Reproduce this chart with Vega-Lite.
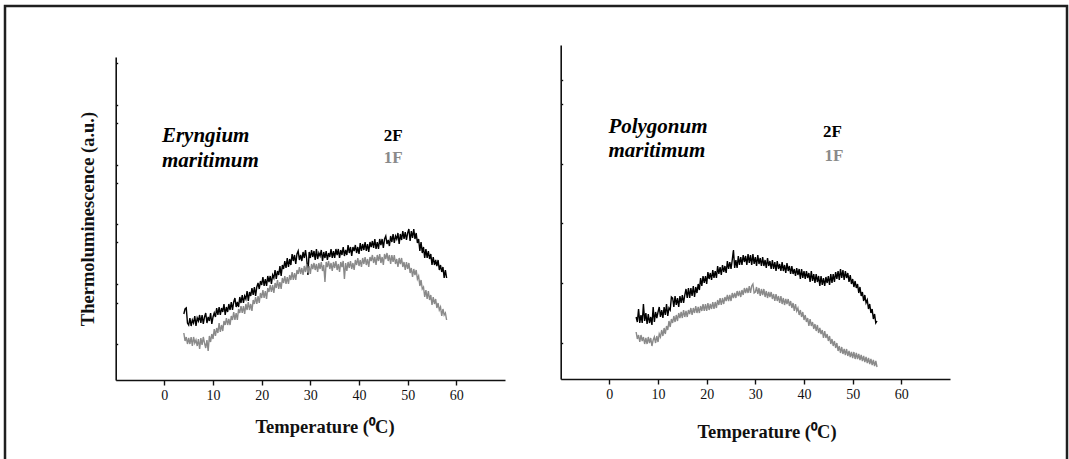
{
  "$schema": "https://vega.github.io/schema/vega-lite/v6.json",
  "width": 1062,
  "height": 455,
  "padding": {"left": 5, "top": 6, "right": 2, "bottom": 0},
  "autosize": {"type": "none"},
  "background": "white",
  "config": {
    "view": {"stroke": "#1f1f1f", "strokeWidth": 2.5},
    "font": "Liberation Serif",
    "axis": {
      "grid": false,
      "domainColor": "#111111",
      "domainWidth": 1.6,
      "tickColor": "#111111",
      "tickWidth": 1.4,
      "labelFont": "Liberation Serif",
      "labelFontSize": 14,
      "labelColor": "#111111",
      "titleFont": "Liberation Serif",
      "titleFontSize": 18.5,
      "titleFontWeight": "bold",
      "titleColor": "#111111"
    }
  },
  "datasets": {
    "eryngium": [
      {"t":4,"f2":66,"f1":47},{"t":4.25,"f2":71,"f1":39},{"t":4.5,"f2":72,"f1":43},{"t":4.75,"f2":57,"f1":36},
      {"t":5,"f2":55,"f1":42},{"t":5.25,"f2":62,"f1":36},{"t":5.5,"f2":54,"f1":43},{"t":5.75,"f2":60,"f1":34},
      {"t":6,"f2":57,"f1":43},{"t":6.25,"f2":64,"f1":37},{"t":6.5,"f2":54,"f1":40},{"t":6.75,"f2":62,"f1":34},
      {"t":7,"f2":59,"f1":41},{"t":7.25,"f2":65,"f1":31},{"t":7.5,"f2":57,"f1":42},{"t":7.75,"f2":65,"f1":35},
      {"t":8,"f2":56,"f1":43},{"t":8.25,"f2":63,"f1":37},{"t":8.5,"f2":67,"f1":32},{"t":8.75,"f2":57,"f1":40},
      {"t":9,"f2":63,"f1":29},{"t":9.25,"f2":59,"f1":44},{"t":9.5,"f2":67,"f1":38},{"t":9.75,"f2":56,"f1":46},
      {"t":10,"f2":63,"f1":41},{"t":10.25,"f2":67,"f1":51},{"t":10.5,"f2":63,"f1":44},{"t":10.75,"f2":72,"f1":52},
      {"t":11,"f2":65,"f1":47},{"t":11.25,"f2":73,"f1":57},{"t":11.5,"f2":65,"f1":48},{"t":11.75,"f2":72,"f1":55},
      {"t":12,"f2":68,"f1":49},{"t":12.25,"f2":76,"f1":59},{"t":12.5,"f2":65,"f1":55},{"t":12.75,"f2":73,"f1":62},
      {"t":13,"f2":68,"f1":55},{"t":13.25,"f2":76,"f1":61},{"t":13.5,"f2":70,"f1":55},{"t":13.75,"f2":78,"f1":64},
      {"t":14,"f2":70,"f1":60},{"t":14.25,"f2":78,"f1":68},{"t":14.5,"f2":82,"f1":60},{"t":14.75,"f2":73,"f1":67},
      {"t":15,"f2":78,"f1":60},{"t":15.25,"f2":73,"f1":71},{"t":15.5,"f2":83,"f1":67},{"t":15.75,"f2":77,"f1":74},
      {"t":16,"f2":85,"f1":67},{"t":16.25,"f2":77,"f1":74},{"t":16.5,"f2":84,"f1":66},{"t":16.75,"f2":81,"f1":76},
      {"t":17,"f2":89,"f1":70},{"t":17.25,"f2":79,"f1":78},{"t":17.5,"f2":88,"f1":70},{"t":17.75,"f2":84,"f1":76},
      {"t":18,"f2":92,"f1":69},{"t":18.25,"f2":85,"f1":80},{"t":18.5,"f2":93,"f1":76},{"t":18.75,"f2":84,"f1":83},
      {"t":19,"f2":93,"f1":76},{"t":19.25,"f2":97,"f1":84},{"t":19.5,"f2":91,"f1":77},{"t":19.75,"f2":99,"f1":87},
      {"t":20,"f2":95,"f1":82},{"t":20.25,"f2":103,"f1":90},{"t":20.5,"f2":94,"f1":82},{"t":20.75,"f2":101,"f1":89},
      {"t":21,"f2":94,"f1":81},{"t":21.25,"f2":104,"f1":92},{"t":21.5,"f2":98,"f1":88},{"t":21.75,"f2":104,"f1":95},
      {"t":22,"f2":96,"f1":88},{"t":22.25,"f2":105,"f1":95},{"t":22.5,"f2":102,"f1":87},{"t":22.75,"f2":110,"f1":97},
      {"t":23,"f2":101,"f1":92},{"t":23.25,"f2":109,"f1":100},{"t":23.5,"f2":105,"f1":91},{"t":23.75,"f2":114,"f1":98},
      {"t":24,"f2":104,"f1":91},{"t":24.25,"f2":115,"f1":102},{"t":24.5,"f2":111,"f1":97},{"t":24.75,"f2":119,"f1":104},
      {"t":25,"f2":112,"f1":96},{"t":25.25,"f2":122,"f1":103},{"t":25.5,"f2":113,"f1":96},{"t":25.75,"f2":121,"f1":105},
      {"t":26,"f2":115,"f1":100},{"t":26.25,"f2":126,"f1":108},{"t":26.5,"f2":119,"f1":100},{"t":26.75,"f2":125,"f1":107},
      {"t":27,"f2":116,"f1":100},{"t":27.25,"f2":126,"f1":110},{"t":27.5,"f2":129,"f1":106},{"t":27.75,"f2":120,"f1":113},
      {"t":28,"f2":125,"f1":106},{"t":28.25,"f2":119,"f1":112},{"t":28.5,"f2":128,"f1":105},{"t":28.75,"f2":122,"f1":114},
      {"t":29,"f2":130,"f1":108},{"t":29.25,"f2":121,"f1":116},{"t":29.5,"f2":105,"f1":107},{"t":29.75,"f2":128,"f1":114},
      {"t":30,"f2":122,"f1":106},{"t":30.25,"f2":130,"f1":116},{"t":30.5,"f2":123,"f1":111},{"t":30.75,"f2":129,"f1":117},
      {"t":31,"f2":120,"f1":110},{"t":31.25,"f2":131,"f1":116},{"t":31.5,"f2":121,"f1":108},{"t":31.75,"f2":127,"f1":117},
      {"t":32,"f2":124,"f1":111},{"t":32.25,"f2":130,"f1":118},{"t":32.5,"f2":119,"f1":109},{"t":32.75,"f2":128,"f1":115},
      {"t":33,"f2":122,"f1":98},{"t":33.25,"f2":129,"f1":118},{"t":33.5,"f2":120,"f1":113},{"t":33.75,"f2":127,"f1":119},
      {"t":34,"f2":123,"f1":111},{"t":34.25,"f2":131,"f1":117},{"t":34.5,"f2":122,"f1":109},{"t":34.75,"f2":129,"f1":118},
      {"t":35,"f2":122,"f1":112},{"t":35.25,"f2":131,"f1":119},{"t":35.5,"f2":125,"f1":110},{"t":35.75,"f2":131,"f1":116},
      {"t":36,"f2":122,"f1":108},{"t":36.25,"f2":130,"f1":118},{"t":36.5,"f2":125,"f1":113},{"t":36.75,"f2":133,"f1":119},
      {"t":37,"f2":124,"f1":101},{"t":37.25,"f2":130,"f1":117},{"t":37.5,"f2":125,"f1":109},{"t":37.75,"f2":135,"f1":118},
      {"t":38,"f2":127,"f1":112},{"t":38.25,"f2":133,"f1":119},{"t":38.5,"f2":124,"f1":111},{"t":38.75,"f2":133,"f1":117},
      {"t":39,"f2":129,"f1":110},{"t":39.25,"f2":135,"f1":120},{"t":39.5,"f2":127,"f1":115},{"t":39.75,"f2":133,"f1":122},
      {"t":40,"f2":126,"f1":114},{"t":40.25,"f2":137,"f1":120},{"t":40.5,"f2":129,"f1":113},{"t":40.75,"f2":136,"f1":122},
      {"t":41,"f2":130,"f1":116},{"t":41.25,"f2":138,"f1":123},{"t":41.5,"f2":129,"f1":115},{"t":41.75,"f2":136,"f1":121},
      {"t":42,"f2":128,"f1":113},{"t":42.25,"f2":138,"f1":123},{"t":42.5,"f2":133,"f1":119},{"t":42.75,"f2":139,"f1":125},
      {"t":43,"f2":132,"f1":117},{"t":43.25,"f2":141,"f1":123},{"t":43.5,"f2":131,"f1":115},{"t":43.75,"f2":138,"f1":125},
      {"t":44,"f2":131,"f1":119},{"t":44.25,"f2":141,"f1":126},{"t":44.5,"f2":135,"f1":117},{"t":44.75,"f2":141,"f1":123},
      {"t":45,"f2":132,"f1":115},{"t":45.25,"f2":141,"f1":126},{"t":45.5,"f2":144,"f1":121},{"t":45.75,"f2":136,"f1":127},
      {"t":46,"f2":140,"f1":119},{"t":46.25,"f2":134,"f1":125},{"t":46.5,"f2":144,"f1":116},{"t":46.75,"f2":138,"f1":125},
      {"t":47,"f2":146,"f1":118},{"t":47.25,"f2":137,"f1":125},{"t":47.5,"f2":144,"f1":116},{"t":47.75,"f2":141,"f1":121},
      {"t":48,"f2":147,"f1":113},{"t":48.25,"f2":136,"f1":122},{"t":48.5,"f2":146,"f1":116},{"t":48.75,"f2":140,"f1":122},
      {"t":49,"f2":149,"f1":113},{"t":49.25,"f2":141,"f1":118},{"t":49.5,"f2":148,"f1":110},{"t":49.75,"f2":140,"f1":118},
      {"t":50,"f2":147,"f1":111},{"t":50.25,"f2":151,"f1":117},{"t":50.5,"f2":139,"f1":107},{"t":50.75,"f2":149,"f1":112},
      {"t":51,"f2":142,"f1":103},{"t":51.25,"f2":151,"f1":111},{"t":51.5,"f2":141,"f1":105},{"t":51.75,"f2":147,"f1":110},
      {"t":52,"f2":137,"f1":101},{"t":52.25,"f2":141,"f1":104},{"t":52.5,"f2":129,"f1":94},{"t":52.75,"f2":138,"f1":100},
      {"t":53,"f2":127,"f1":91},{"t":53.25,"f2":133,"f1":93},{"t":53.5,"f2":122,"f1":83},{"t":53.75,"f2":131,"f1":90},
      {"t":54,"f2":122,"f1":81},{"t":54.25,"f2":129,"f1":89},{"t":54.5,"f2":121,"f1":80},{"t":54.75,"f2":126,"f1":85},
      {"t":55,"f2":115,"f1":75},{"t":55.25,"f2":123,"f1":83},{"t":55.5,"f2":115,"f1":76},{"t":55.75,"f2":120,"f1":81},
      {"t":56,"f2":114,"f1":72},{"t":56.25,"f2":120,"f1":77},{"t":56.5,"f2":110,"f1":70},{"t":56.75,"f2":115,"f1":73},
      {"t":57,"f2":108,"f1":64},{"t":57.25,"f2":113,"f1":71},{"t":57.5,"f2":102,"f1":65},{"t":57.75,"f2":110,"f1":67},
      {"t":58,"f2":102,"f1":60}
    ],
    "polygonum": [
      {"t":5.5,"f2":62,"f1":47},{"t":5.75,"f2":57,"f1":40},{"t":6,"f2":70,"f1":44},{"t":6.25,"f2":56,"f1":37},
      {"t":6.5,"f2":64,"f1":44},{"t":6.75,"f2":56,"f1":38},{"t":7,"f2":75,"f1":42},{"t":7.25,"f2":58,"f1":35},
      {"t":7.5,"f2":66,"f1":41},{"t":7.75,"f2":55,"f1":35},{"t":8,"f2":65,"f1":42},{"t":8.25,"f2":56,"f1":36},
      {"t":8.5,"f2":62,"f1":41},{"t":8.75,"f2":54,"f1":33},{"t":9,"f2":72,"f1":39},{"t":9.25,"f2":57,"f1":42},
      {"t":9.5,"f2":67,"f1":36},{"t":9.75,"f2":61,"f1":43},{"t":10,"f2":67,"f1":37},{"t":10.25,"f2":72,"f1":45},
      {"t":10.5,"f2":62,"f1":42},{"t":10.75,"f2":69,"f1":49},{"t":11,"f2":61,"f1":43},{"t":11.25,"f2":72,"f1":51},
      {"t":11.5,"f2":64,"f1":45},{"t":11.75,"f2":75,"f1":53},{"t":12,"f2":63,"f1":49},{"t":12.25,"f2":71,"f1":58},
      {"t":12.5,"f2":69,"f1":52},{"t":12.75,"f2":82,"f1":60},{"t":13,"f2":81,"f1":56},{"t":13.25,"f2":72,"f1":63},
      {"t":13.5,"f2":83,"f1":57},{"t":13.75,"f2":74,"f1":64},{"t":14,"f2":81,"f1":58},{"t":14.25,"f2":72,"f1":66},
      {"t":14.5,"f2":83,"f1":61},{"t":14.75,"f2":76,"f1":67},{"t":15,"f2":84,"f1":61},{"t":15.25,"f2":76,"f1":69},
      {"t":15.5,"f2":84,"f1":62},{"t":15.75,"f2":90,"f1":68},{"t":16,"f2":81,"f1":62},{"t":16.25,"f2":91,"f1":69},
      {"t":16.5,"f2":81,"f1":65},{"t":16.75,"f2":91,"f1":71},{"t":17,"f2":83,"f1":64},{"t":17.25,"f2":93,"f1":71},
      {"t":17.5,"f2":82,"f1":66},{"t":17.75,"f2":92,"f1":73},{"t":18,"f2":86,"f1":66},{"t":18.25,"f2":95,"f1":72},
      {"t":18.5,"f2":89,"f1":66},{"t":18.75,"f2":101,"f1":73},{"t":19,"f2":93,"f1":68},{"t":19.25,"f2":103,"f1":75},
      {"t":19.5,"f2":96,"f1":68},{"t":19.75,"f2":103,"f1":75},{"t":20,"f2":95,"f1":68},{"t":20.25,"f2":107,"f1":76},
      {"t":20.5,"f2":100,"f1":69},{"t":20.75,"f2":106,"f1":75},{"t":21,"f2":99,"f1":70},{"t":21.25,"f2":109,"f1":77},
      {"t":21.5,"f2":101,"f1":70},{"t":21.75,"f2":108,"f1":77},{"t":22,"f2":101,"f1":71},{"t":22.25,"f2":113,"f1":79},
      {"t":22.5,"f2":105,"f1":74},{"t":22.75,"f2":112,"f1":81},{"t":23,"f2":104,"f1":74},{"t":23.25,"f2":114,"f1":81},
      {"t":23.5,"f2":107,"f1":75},{"t":23.75,"f2":113,"f1":82},{"t":24,"f2":106,"f1":78},{"t":24.25,"f2":118,"f1":84},
      {"t":24.5,"f2":110,"f1":78},{"t":24.75,"f2":117,"f1":84},{"t":25,"f2":110,"f1":78},{"t":25.25,"f2":119,"f1":86},
      {"t":25.5,"f2":129,"f1":81},{"t":25.75,"f2":111,"f1":86},{"t":26,"f2":119,"f1":81},{"t":26.25,"f2":111,"f1":88},
      {"t":26.5,"f2":123,"f1":83},{"t":26.75,"f2":114,"f1":88},{"t":27,"f2":122,"f1":82},{"t":27.25,"f2":114,"f1":89},
      {"t":27.5,"f2":124,"f1":84},{"t":27.75,"f2":117,"f1":91},{"t":28,"f2":123,"f1":86},{"t":28.25,"f2":114,"f1":91},
      {"t":28.5,"f2":125,"f1":86},{"t":28.75,"f2":116,"f1":93},{"t":29,"f2":124,"f1":86},{"t":29.25,"f2":114,"f1":93},
      {"t":29.5,"f2":125,"f1":95},{"t":29.75,"f2":115,"f1":86},{"t":30,"f2":122,"f1":87},{"t":30.25,"f2":113,"f1":92},
      {"t":30.5,"f2":124,"f1":85},{"t":30.75,"f2":115,"f1":91},{"t":31,"f2":121,"f1":83},{"t":31.25,"f2":113,"f1":90},
      {"t":31.5,"f2":122,"f1":84},{"t":31.75,"f2":113,"f1":90},{"t":32,"f2":119,"f1":82},{"t":32.25,"f2":111,"f1":88},
      {"t":32.5,"f2":121,"f1":81},{"t":32.75,"f2":113,"f1":87},{"t":33,"f2":118,"f1":82},{"t":33.25,"f2":110,"f1":87},
      {"t":33.5,"f2":119,"f1":80},{"t":33.75,"f2":110,"f1":85},{"t":34,"f2":117,"f1":78},{"t":34.25,"f2":108,"f1":85},
      {"t":34.5,"f2":118,"f1":78},{"t":34.75,"f2":110,"f1":83},{"t":35,"f2":115,"f1":76},{"t":35.25,"f2":108,"f1":83},
      {"t":35.5,"f2":117,"f1":75},{"t":35.75,"f2":108,"f1":81},{"t":36,"f2":114,"f1":74},{"t":36.25,"f2":106,"f1":80},
      {"t":36.5,"f2":116,"f1":75},{"t":36.75,"f2":108,"f1":80},{"t":37,"f2":113,"f1":73},{"t":37.25,"f2":105,"f1":78},
      {"t":37.5,"f2":113,"f1":71},{"t":37.75,"f2":105,"f1":76},{"t":38,"f2":110,"f1":68},{"t":38.25,"f2":103,"f1":75},
      {"t":38.5,"f2":111,"f1":68},{"t":38.75,"f2":104,"f1":71},{"t":39,"f2":110,"f1":64},{"t":39.25,"f2":100,"f1":69},
      {"t":39.5,"f2":110,"f1":62},{"t":39.75,"f2":101,"f1":67},{"t":40,"f2":108,"f1":59},{"t":40.25,"f2":100,"f1":64},
      {"t":40.5,"f2":108,"f1":57},{"t":40.75,"f2":101,"f1":61},{"t":41,"f2":106,"f1":53},{"t":41.25,"f2":97,"f1":60},
      {"t":41.5,"f2":108,"f1":53},{"t":41.75,"f2":98,"f1":57},{"t":42,"f2":105,"f1":50},{"t":42.25,"f2":96,"f1":55},
      {"t":42.5,"f2":105,"f1":48},{"t":42.75,"f2":97,"f1":54},{"t":43,"f2":103,"f1":46},{"t":43.25,"f2":93,"f1":51},
      {"t":43.5,"f2":103,"f1":45},{"t":43.75,"f2":94,"f1":49},{"t":44,"f2":101,"f1":41},{"t":44.25,"f2":93,"f1":48},
      {"t":44.5,"f2":102,"f1":41},{"t":44.75,"f2":96,"f1":45},{"t":45,"f2":103,"f1":38},{"t":45.25,"f2":94,"f1":43},
      {"t":45.5,"f2":105,"f1":35},{"t":45.75,"f2":96,"f1":40},{"t":46,"f2":105,"f1":33},{"t":46.25,"f2":97,"f1":38},
      {"t":46.5,"f2":107,"f1":31},{"t":46.75,"f2":100,"f1":36},{"t":47,"f2":108,"f1":28},{"t":47.25,"f2":99,"f1":33},
      {"t":47.5,"f2":110,"f1":26},{"t":47.75,"f2":101,"f1":32},{"t":48,"f2":109,"f1":25},{"t":48.25,"f2":99,"f1":30},
      {"t":48.5,"f2":108,"f1":24},{"t":48.75,"f2":101,"f1":30},{"t":49,"f2":106,"f1":23},{"t":49.25,"f2":97,"f1":28},
      {"t":49.5,"f2":104,"f1":22},{"t":49.75,"f2":95,"f1":27},{"t":50,"f2":100,"f1":21},{"t":50.25,"f2":92,"f1":27},
      {"t":50.5,"f2":98,"f1":20},{"t":50.75,"f2":91,"f1":26},{"t":51,"f2":95,"f1":20},{"t":51.25,"f2":86,"f1":25},
      {"t":51.5,"f2":92,"f1":19},{"t":51.75,"f2":83,"f1":24},{"t":52,"f2":87,"f1":18},{"t":52.25,"f2":78,"f1":23},
      {"t":52.5,"f2":84,"f1":17},{"t":52.75,"f2":76,"f1":22},{"t":53,"f2":79,"f1":16},{"t":53.25,"f2":70,"f1":21},
      {"t":53.5,"f2":75,"f1":15},{"t":53.75,"f2":66,"f1":20},{"t":54,"f2":70,"f1":14},{"t":54.25,"f2":60,"f1":19},
      {"t":54.5,"f2":65,"f1":13},{"t":54.75,"f2":56,"f1":18},{"t":55,"f2":58,"f1":12}
    ],
    "eryngiumNames": [
      {"t": -0.5, "v": 238, "label": "Eryngium"},
      {"t": -0.5, "v": 213, "label": "maritimum"}
    ],
    "eryngiumSeries": [
      {"t": 45.1, "v": 239, "s": "f2", "label": "2F"},
      {"t": 45.1, "v": 217, "s": "f1", "label": "1F"}
    ],
    "polygonumNames": [
      {"t": -0.2, "v": 246, "label": "Polygonum"},
      {"t": -0.2, "v": 222, "label": "maritimum"}
    ],
    "polygonumSeries": [
      {"t": 43.9, "v": 242, "s": "f2", "label": "2F"},
      {"t": 44.2, "v": 218, "s": "f1", "label": "1F"}
    ]
  },
  "layer": [
    {
      "encoding": {
        "x": {
          "field": "t", "type": "quantitative",
          "scale": {"domain": [-10, 70], "range": [110.7, 500], "nice": false, "zero": false},
          "axis": {
            "orient": "bottom", "offset": -81, "values": [0, 10, 20, 30, 40, 50, 60],
            "tickSize": 5, "labelPadding": 3,
            "title": "Temperature (⁰C)", "titleX": 319.5, "titleY": 52, "titleBaseline": "alphabetic"
          }
        },
        "y": {
          "field": "v", "type": "quantitative",
          "scale": {"domain": [0, 323], "range": [374, 51], "nice": false, "zero": false},
          "axis": {
            "orient": "left", "offset": -110.7,
            "values": [36, 77, 96, 138, 156, 197, 215, 257, 275, 317],
            "labels": false, "tickSize": -2,
            "title": "Thermoluminescence (a.u.)", "titlePadding": 18
          }
        }
      },
      "layer": [
        {
          "data": {"name": "eryngium"},
          "transform": [{"fold": ["f2", "f1"], "as": ["s", "v"]}],
          "mark": {"type": "line", "strokeWidth": 1.4},
          "encoding": {
            "color": {"field": "s", "type": "nominal", "scale": {"domain": ["f2", "f1"], "range": ["#000000", "#8a8a8a"]}, "legend": null}
          }
        },
        {
          "data": {"name": "eryngiumNames"},
          "mark": {"type": "text", "align": "left", "baseline": "alphabetic", "font": "Liberation Serif", "fontStyle": "italic", "fontWeight": "bold", "fontSize": 21, "color": "#000000"},
          "encoding": {"text": {"field": "label"}}
        },
        {
          "data": {"name": "eryngiumSeries"},
          "mark": {"type": "text", "align": "left", "baseline": "alphabetic", "font": "Liberation Serif", "fontWeight": "bold", "fontSize": 17},
          "encoding": {
            "text": {"field": "label"},
            "color": {"field": "s", "type": "nominal", "scale": {"domain": ["f2", "f1"], "range": ["#000000", "#8a8a8a"]}, "legend": null}
          }
        }
      ]
    },
    {
      "encoding": {
        "x": {
          "field": "t", "type": "quantitative",
          "scale": {"domain": [-10, 70], "range": [555.7, 945], "nice": false, "zero": false},
          "axis": {
            "orient": "bottom", "offset": -82, "values": [0, 10, 20, 30, 40, 50, 60],
            "tickSize": 5, "labelPadding": 3,
            "title": "Temperature (⁰C)", "titleX": 761.5, "titleY": 58, "titleBaseline": "alphabetic"
          }
        },
        "y": {
          "field": "v", "type": "quantitative",
          "scale": {"domain": [0, 334], "range": [373, 39], "nice": false, "zero": false},
          "axis": {
            "orient": "left", "offset": -555.7,
            "values": [36, 96, 156, 215, 275, 299],
            "labels": false, "tickSize": -2, "title": null
          }
        }
      },
      "layer": [
        {
          "data": {"name": "polygonum"},
          "transform": [{"fold": ["f2", "f1"], "as": ["s", "v"]}],
          "mark": {"type": "line", "strokeWidth": 1.4},
          "encoding": {
            "color": {"field": "s", "type": "nominal", "scale": {"domain": ["f2", "f1"], "range": ["#000000", "#8a8a8a"]}, "legend": null}
          }
        },
        {
          "data": {"name": "polygonumNames"},
          "mark": {"type": "text", "align": "left", "baseline": "alphabetic", "font": "Liberation Serif", "fontStyle": "italic", "fontWeight": "bold", "fontSize": 21, "color": "#000000"},
          "encoding": {"text": {"field": "label"}}
        },
        {
          "data": {"name": "polygonumSeries"},
          "mark": {"type": "text", "align": "left", "baseline": "alphabetic", "font": "Liberation Serif", "fontWeight": "bold", "fontSize": 17},
          "encoding": {
            "text": {"field": "label"},
            "color": {"field": "s", "type": "nominal", "scale": {"domain": ["f2", "f1"], "range": ["#000000", "#8a8a8a"]}, "legend": null}
          }
        }
      ]
    }
  ],
  "resolve": {
    "scale": {"x": "independent", "y": "independent"},
    "axis": {"x": "independent", "y": "independent"}
  }
}
